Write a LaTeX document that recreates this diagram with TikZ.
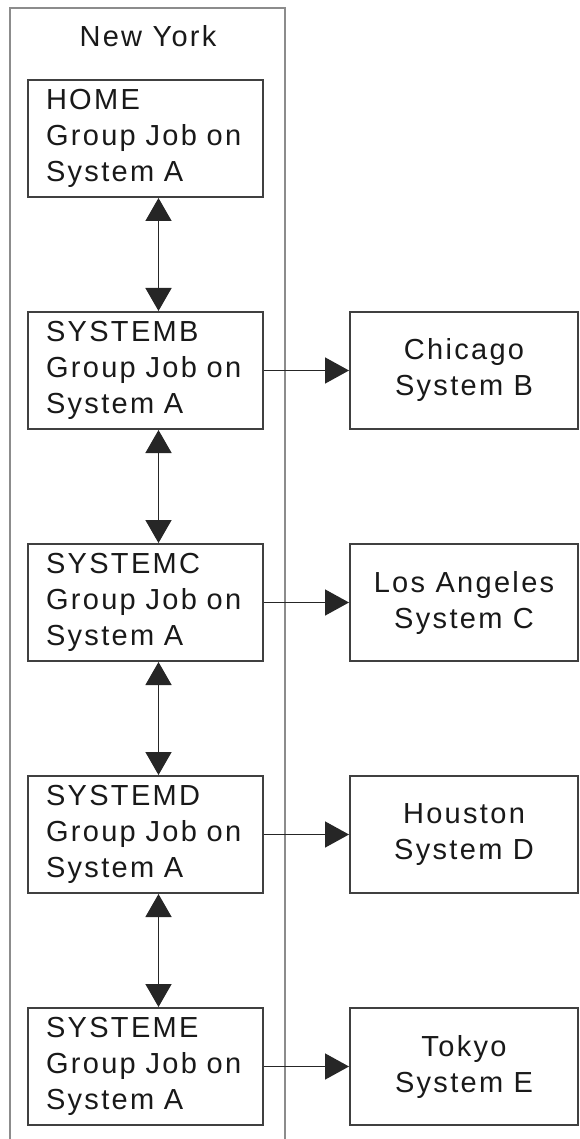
\documentclass[tikz,border=0pt]{standalone}
\usepackage{fontspec}
\setmainfont{Liberation Sans}[LetterSpace=8]
\usetikzlibrary{arrows.meta}
\begin{document}
\begin{tikzpicture}[x=1pt,y=-1pt,
  txt/.style={font={\fontsize{29}{36}\selectfont}, text=black!90},
  leftbox/.style={txt, draw=black!75, line width=2pt, rectangle,
    minimum width=235pt, minimum height=117pt, text width=199pt,
    inner xsep=18pt, inner ysep=0pt, align=left},
  rightbox/.style={txt, draw=black!75, line width=2pt, rectangle,
    minimum width=228pt, minimum height=117pt, inner sep=0pt, align=center},
  container/.style={draw=black!45, line width=2.6pt},
  harr/.style={draw=black!85, line width=1.5pt, -{Triangle[length=24pt,width=26pt]}},
  varr/.style={draw=black!85, line width=1.5pt, {Triangle[length=23pt,width=26pt]}-{Triangle[length=23pt,width=26pt]}}
]
\useasboundingbox (0,0) rectangle (580,1139);
\clip (0,0) rectangle (580,1139);
\fill[white] (0,0) rectangle (580,1139);
% container
\draw[container] (10,1160) |- (285,8) -- (285,1160);
\node[txt] (nylabel) at (148,36) {New York};
% left boxes
\node[leftbox] (home) at (145.5,138.5) {HOME\\Group Job on\\System A};
\node[leftbox] (sysb) at (145.5,370.5) {SYSTEMB\\Group Job on\\System A};
\node[leftbox] (sysc) at (145.5,602.5) {SYSTEMC\\Group Job on\\System A};
\node[leftbox] (sysd) at (145.5,834.5) {SYSTEMD\\Group Job on\\System A};
\node[leftbox] (syse) at (145.5,1066.5) {SYSTEME\\Group Job on\\System A};
% right boxes
\node[rightbox] (chicago) at (464,370.5) {Chicago\\System B};
\node[rightbox] (la) at (464,602.5) {Los Angeles\\System C};
\node[rightbox] (houston) at (464,834.5) {Houston\\System D};
\node[rightbox] (tokyo) at (464,1066.5) {Tokyo\\System E};
% vertical arrows
\draw[varr] ([xshift=13pt]home.south) -- ([xshift=13pt]sysb.north);
\draw[varr] ([xshift=13pt]sysb.south) -- ([xshift=13pt]sysc.north);
\draw[varr] ([xshift=13pt]sysc.south) -- ([xshift=13pt]sysd.north);
\draw[varr] ([xshift=13pt]sysd.south) -- ([xshift=13pt]syse.north);
% horizontal arrows
\draw[harr] (sysb.east) -- (chicago.west);
\draw[harr] (sysc.east) -- (la.west);
\draw[harr] (sysd.east) -- (houston.west);
\draw[harr] (syse.east) -- (tokyo.west);
\end{tikzpicture}
\end{document}
